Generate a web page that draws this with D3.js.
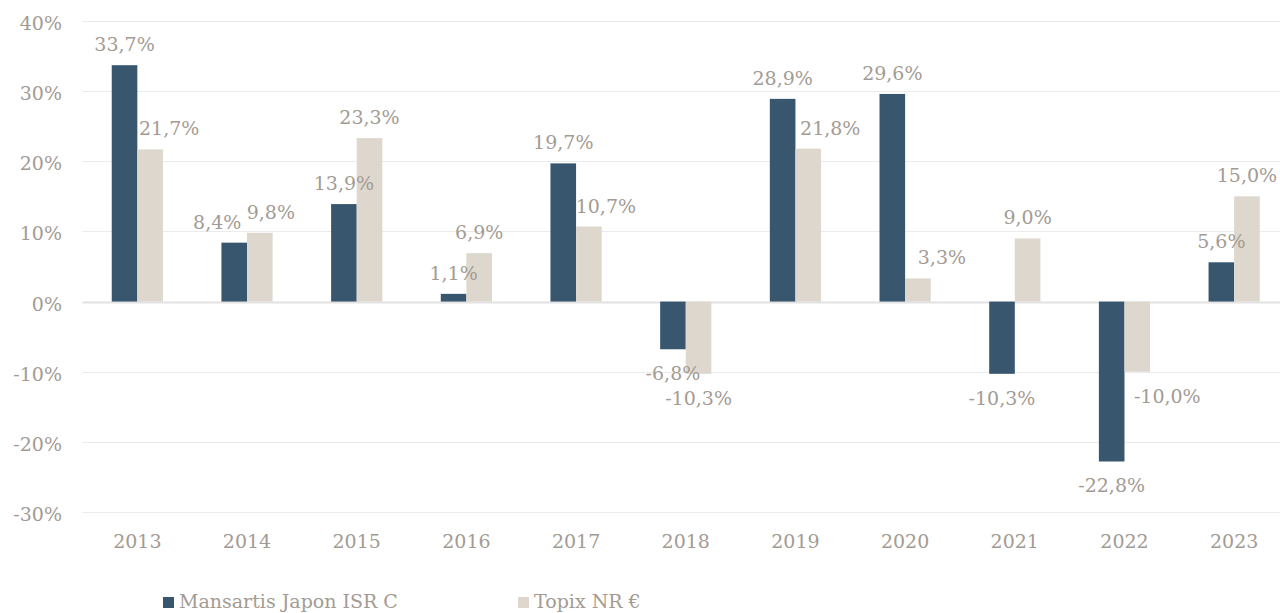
<!DOCTYPE html>
<html>
<head>
<meta charset="utf-8">
<title>Mansartis Japon ISR C vs Topix NR</title>
<style>
	body { margin: 0; background: #fff; }
	svg text { font-family: "DejaVu Serif", Georgia, serif; fill: #a39b93; }
</style>
</head>
<body>
<svg width="1280" height="613"></svg>
<script src="https://cdn.jsdelivr.net/npm/d3@7"></script>
<script>
	// données
	const years = ["2013", "2014", "2015", "2016", "2017", "2018", "2019", "2020", "2021", "2022", "2023"]
	const mansartis = [33.7, 8.4, 13.9, 1.1, 19.7, -6.8, 28.9, 29.6, -10.3, -22.8, 5.6]
	const topix = [21.7, 9.8, 23.3, 6.9, 10.7, -10.3, 21.8, 3.3, 9.0, -10.0, 15.0]
	const seriesNames = ["Mansartis Japon ISR C", "Topix NR €"]
	const yTicks = [-30, -20, -10, 0, 10, 20, 30, 40]

	// petits décalages horizontaux des étiquettes (comme dans l'original)
	const nudgeDark = [0, -17, 0, 0, 0, 0, 0, 0, 0, 0, 0]
	const nudgeLight = [19, 11, 0, 0, 17, 0, 22, 24, 0, 30, 0]

	const colors = ["#38566e", "#ddd7cd"]
	const fmt = v => d3.format(".1f")(v).replace(".", ",").replace("−", "-") + "%"

	const svg = d3.select("svg")

	// échelles
	const x0 = d3.scaleBand().domain(years).range([82.5, 1289]).padding(0)
	const bw = x0.bandwidth()
	const x1 = d3.scaleBand().domain([0, 1]).range([bw / 2 - 25.6, bw / 2 + 25.6])
	const y = d3.scaleLinear().domain([-30, 40]).range([512, 21])

	// grille
	svg.append("g").selectAll("line").data(yTicks).join("line")
		.attr("x1", 82.5).attr("x2", 1280)
		.attr("y1", d => Math.round(y(d)) + 0.5).attr("y2", d => Math.round(y(d)) + 0.5)
		.attr("stroke", d => d === 0 ? "#e2e2e2" : "#ebebeb")
		.attr("stroke-width", d => d === 0 ? 2 : 1)

	// axe Y
	svg.append("g").selectAll("text").data(yTicks).join("text")
		.attr("x", 62).attr("y", d => y(d) + 9)
		.attr("text-anchor", "end").attr("font-size", 19)
		.text(d => d + "%")

	// axe X
	svg.append("g").selectAll("text").data(years).join("text")
		.attr("x", d => x0(d) + bw / 2).attr("y", 548)
		.attr("text-anchor", "middle").attr("font-size", 19)
		.text(d => d)

	// barres
	const rows = years.map((yr, i) => [
		{ yr, s: 0, v: mansartis[i], dx: nudgeDark[i] },
		{ yr, s: 1, v: topix[i], dx: nudgeLight[i] }
	])
	const g = svg.append("g").selectAll("g").data(rows).join("g")
		.attr("transform", d => `translate(${x0(d[0].yr)},0)`)

	g.selectAll("rect").data(d => d).join("rect")
		.attr("x", d => x1(d.s))
		.attr("width", x1.bandwidth())
		.attr("y", d => y(Math.max(0, d.v)))
		.attr("height", d => Math.abs(y(d.v) - y(0)))
		.attr("fill", d => colors[d.s])

	g.selectAll("text").data(d => d).join("text")
		.attr("x", d => x1(d.s) + x1.bandwidth() / 2 + d.dx)
		.attr("y", d => d.v >= 0 ? y(d.v) - 14 : y(d.v) + 31)
		.attr("text-anchor", "middle").attr("font-size", 19)
		.text(d => fmt(d.v))

	// légende
	const legX = [163, 518]
	const leg = svg.append("g").selectAll("g").data(seriesNames).join("g")
		.attr("transform", (d, i) => `translate(${legX[i]},597)`)
	leg.append("rect").attr("width", 11).attr("height", 11).attr("fill", (d, i) => colors[i])
	leg.append("text").attr("x", 16).attr("y", 11).attr("font-size", 19).text(d => d)
</script>
</body>
</html>
